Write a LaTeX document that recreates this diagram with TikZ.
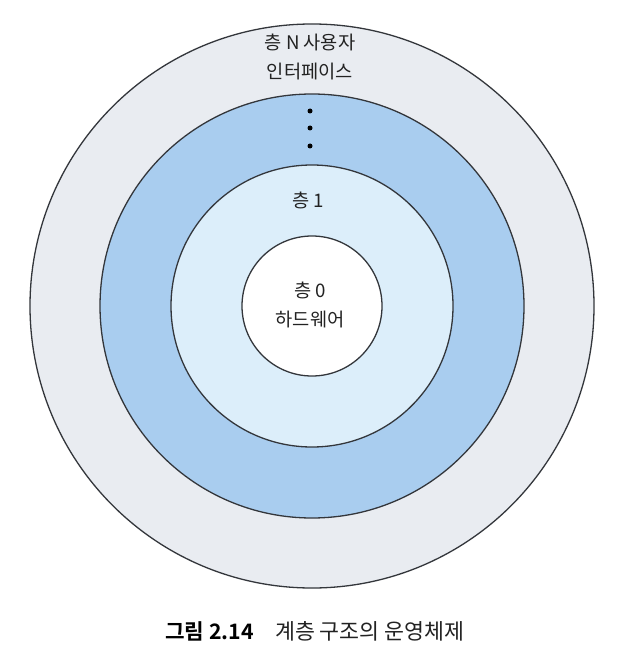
\documentclass[tikz,border=0pt]{standalone}
\usepackage{fontspec}
\setmainfont{Noto Sans CJK KR}
\newfontfamily\krbold{Noto Sans CJK KR Bold}
\definecolor{ringA}{HTML}{E9ECF1}
\definecolor{ringB}{HTML}{A9CDEF}
\definecolor{ringC}{HTML}{DCEEFA}
\definecolor{edge}{HTML}{33363B}
\definecolor{txt}{HTML}{222222}
\begin{document}
\begin{tikzpicture}[x=1pt,y=-1pt,
  layer/.style={circle,draw=edge,line width=1.3pt,inner sep=0pt},
  lbl/.style={text=txt,font=\fontsize{18.7}{22}\selectfont,inner sep=0pt},
  dotmark/.style={circle,fill=black,inner sep=0pt,minimum size=5pt}]
\useasboundingbox (0,0) rectangle (625,660);
\fill[white] (0,0) rectangle (625,660);
\node[layer,fill=ringA,minimum size=564pt] (l3) at (312,306) {};
\node[layer,fill=ringB,minimum size=424pt] (l2) at (312,306) {};
\node[layer,fill=ringC,minimum size=282pt] (l1) at (312,306) {};
\node[layer,fill=white,minimum size=140pt] (l0) at (312,306) {};
\node[lbl] (tN) at (310,42) {층 N 사용자};
\node[lbl] (tNi) at (310,72) {인터페이스};
\node[dotmark] (d1) at (310,111) {};
\node[dotmark] (d2) at (310,128) {};
\node[dotmark] (d3) at (310,146) {};
\node[lbl] (t1) at (308,200) {층 1};
\node[lbl] (t0) at (310,290) {층 0};
\node[lbl] (t0h) at (310,320) {하드웨어};
\node[anchor=west,inner sep=0pt,font=\krbold\fontsize{21.3}{25}\selectfont] (cap1) at (165,631) {그림 2.14};
\node[anchor=west,inner sep=0pt,text=txt,font=\fontsize{21.7}{25}\selectfont] (cap2) at (275,631) {계층 구조의 운영체제};
\end{tikzpicture}
\end{document}
